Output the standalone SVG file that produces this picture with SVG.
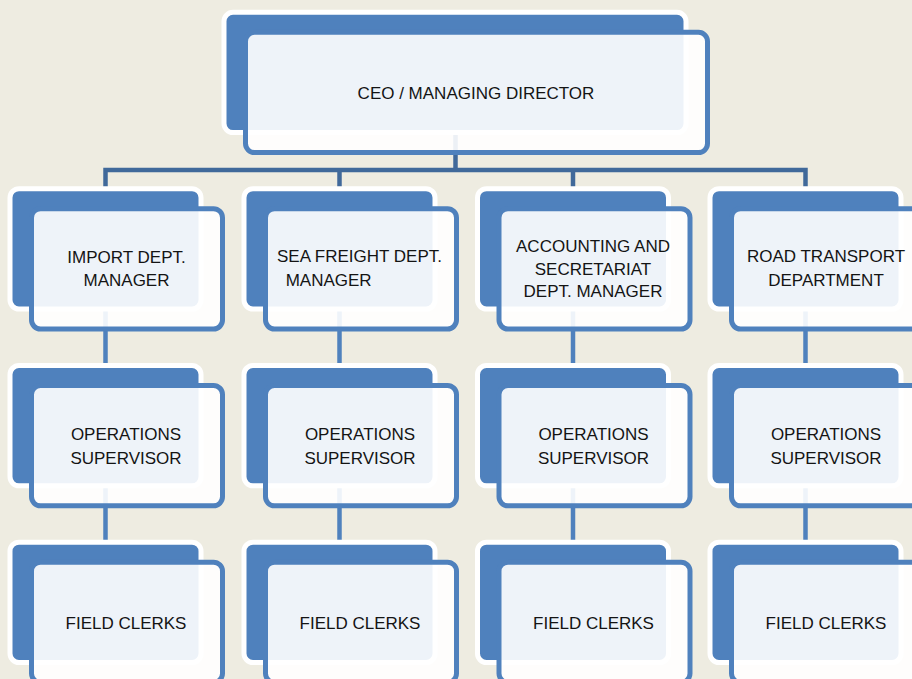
<svg xmlns="http://www.w3.org/2000/svg" width="912" height="679" viewBox="0 0 912 679">
<style>
.bg{fill:#EEECE1}
.back{fill:#4F81BD;stroke:#FFFFFF;stroke-width:5}
.front{fill:#FFFFFF;fill-opacity:0.9;stroke:#4F81BD;stroke-width:5}
.t{font-family:"Liberation Sans",Arial,sans-serif;font-size:17px;fill:#141414;text-anchor:middle}
.ts{text-anchor:start}
.c1{fill:none;stroke:#40699A;stroke-width:4.5}
.c2{fill:none;stroke:#4F81BD;stroke-width:4.5}
</style>
<rect class="bg" x="0" y="0" width="912" height="679"/>
<g id="connectors">
<path class="c1" d="M455.5,125 V170"/>
<path class="c1" d="M105.5,195 V170 H805.5 V195"/>
<path class="c1" d="M339.5,170 V195"/>
<path class="c1" d="M573,170 V195"/>
<path class="c2" d="M105.5,300 V372 M105.5,478 V549"/>
<path class="c2" d="M339.5,300 V372 M339.5,478 V549"/>
<path class="c2" d="M573,300 V372 M573,478 V549"/>
<path class="c2" d="M805.5,300 V372 M805.5,478 V549"/>
</g>
<g id="ceo">
<rect class="back" x="224" y="12.3" width="462" height="120.3" rx="9"/>
<rect class="front" x="245.5" y="32.3" width="462" height="120.3" rx="9"/>
<text class="t" x="476" y="98.5">CEO / MANAGING DIRECTOR</text>
</g>
<g id="import-mgr">
<rect class="back" x="10" y="188.7" width="191" height="120.3" rx="9"/>
<rect class="front" x="31.5" y="208.7" width="191" height="120.3" rx="9"/>
<text class="t" x="126.5" y="262.5">IMPORT DEPT.</text>
<text class="t" x="126.5" y="286">MANAGER</text>
</g>
<g id="sea-mgr">
<rect class="back" x="244" y="188.7" width="191" height="120.3" rx="9"/>
<rect class="front" x="265.5" y="208.7" width="191" height="120.3" rx="9"/>
<text class="t" x="359.5" y="262">SEA FREIGHT DEPT.</text>
<text class="t ts" x="285.7" y="286">MANAGER</text>
</g>
<g id="acct-mgr">
<rect class="back" x="477.5" y="188.7" width="191" height="120.3" rx="9"/>
<rect class="front" x="499" y="208.7" width="191" height="120.3" rx="9"/>
<text class="t" x="593" y="251.7">ACCOUNTING AND</text>
<text class="t" x="593" y="274.5">SECRETARIAT</text>
<text class="t" x="593" y="297.3">DEPT. MANAGER</text>
</g>
<g id="road-dept">
<rect class="back" x="710" y="188.7" width="191" height="120.3" rx="9"/>
<rect class="front" x="731.5" y="208.7" width="191" height="120.3" rx="9"/>
<text class="t" x="826" y="261.7">ROAD TRANSPORT</text>
<text class="t" x="826" y="285.7">DEPARTMENT</text>
</g>
<g id="ops-import">
<rect class="back" x="10" y="365.5" width="191" height="120.3" rx="9"/>
<rect class="front" x="31.5" y="385.5" width="191" height="120.3" rx="9"/>
<text class="t" x="126" y="440">OPERATIONS</text>
<text class="t" x="126" y="464">SUPERVISOR</text>
</g>
<g id="ops-sea">
<rect class="back" x="244" y="365.5" width="191" height="120.3" rx="9"/>
<rect class="front" x="265.5" y="385.5" width="191" height="120.3" rx="9"/>
<text class="t" x="360" y="440">OPERATIONS</text>
<text class="t" x="360" y="464">SUPERVISOR</text>
</g>
<g id="ops-acct">
<rect class="back" x="477.5" y="365.5" width="191" height="120.3" rx="9"/>
<rect class="front" x="499" y="385.5" width="191" height="120.3" rx="9"/>
<text class="t" x="593.5" y="440">OPERATIONS</text>
<text class="t" x="593.5" y="464">SUPERVISOR</text>
</g>
<g id="ops-road">
<rect class="back" x="710" y="365.5" width="191" height="120.3" rx="9"/>
<rect class="front" x="731.5" y="385.5" width="191" height="120.3" rx="9"/>
<text class="t" x="826" y="440">OPERATIONS</text>
<text class="t" x="826" y="464">SUPERVISOR</text>
</g>
<g id="clerks-import">
<rect class="back" x="10" y="542.2" width="191" height="120.3" rx="9"/>
<rect class="front" x="31.5" y="562.2" width="191" height="120.3" rx="9"/>
<text class="t" x="126" y="628.5">FIELD CLERKS</text>
</g>
<g id="clerks-sea">
<rect class="back" x="244" y="542.2" width="191" height="120.3" rx="9"/>
<rect class="front" x="265.5" y="562.2" width="191" height="120.3" rx="9"/>
<text class="t" x="360" y="628.5">FIELD CLERKS</text>
</g>
<g id="clerks-acct">
<rect class="back" x="477.5" y="542.2" width="191" height="120.3" rx="9"/>
<rect class="front" x="499" y="562.2" width="191" height="120.3" rx="9"/>
<text class="t" x="593.5" y="628.5">FIELD CLERKS</text>
</g>
<g id="clerks-road">
<rect class="back" x="710" y="542.2" width="191" height="120.3" rx="9"/>
<rect class="front" x="731.5" y="562.2" width="191" height="120.3" rx="9"/>
<text class="t" x="826" y="628.5">FIELD CLERKS</text>
</g>
</svg>
